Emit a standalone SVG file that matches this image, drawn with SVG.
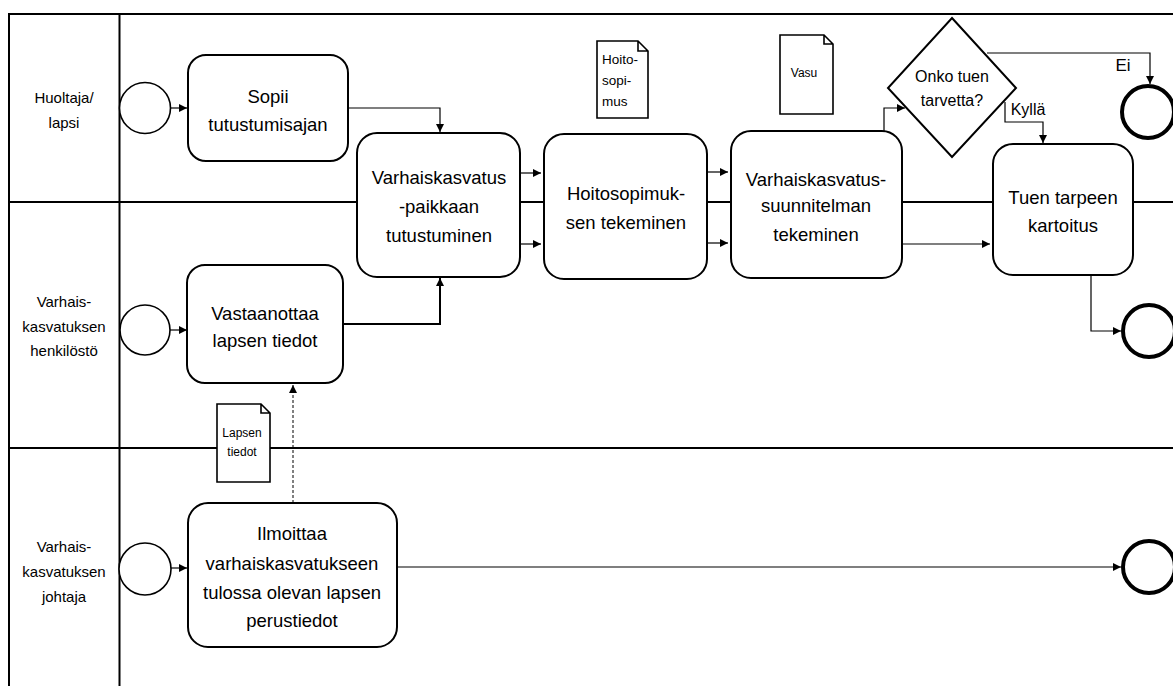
<svg xmlns="http://www.w3.org/2000/svg" width="1173" height="686" viewBox="0 0 1173 686">
  <style>
    .lane { stroke: #000; stroke-width: 2; fill: none; }
    .task { fill: #fff; stroke: #000; stroke-width: 2; }
    .start { fill: #fff; stroke: #000; stroke-width: 1.6; }
    .end { fill: #fff; stroke: #000; stroke-width: 4; }
    .doc { fill: #fff; stroke: #000; stroke-width: 1.6; }
    .flow { fill: none; stroke: #000; stroke-width: 1.2; }
    .flow2 { fill: none; stroke: #000; stroke-width: 2; }
    .assoc { fill: none; stroke: #000; stroke-width: 1; stroke-dasharray: 3 2; }
    text { font-family: "Liberation Sans", Arial, sans-serif; fill: #000; text-anchor: middle; }
    .t { font-size: 18.5px; }
    .lbl { font-size: 15px; }
    .d { font-size: 12px; }
    .d2 { font-size: 13.5px; text-anchor: start; }
    .g { font-size: 16px; }
    .ei { font-size: 17px; }
  </style>
  <defs>
    <marker id="arr" viewBox="0 0 10 10" refX="10" refY="5" markerWidth="8" markerHeight="8" markerUnits="userSpaceOnUse" orient="auto">
      <path d="M0,0 L10,5 L0,10 Z" fill="#000"/>
    </marker>
  </defs>

  <rect width="1173" height="686" fill="#fff"/>

  <!-- pool and lanes -->
  <g id="pool">
    <path class="lane" d="M9,686 V14 H1173"/>
    <path class="lane" d="M119.5,14 V686"/>
    <path class="lane" d="M9,202 H1173"/>
    <path class="lane" d="M9,448 H1173"/>
    <text class="lbl" x="64" y="103">Huoltaja/</text>
    <text class="lbl" x="64" y="128">lapsi</text>
    <text class="lbl" x="64" y="307">Varhais-</text>
    <text class="lbl" x="64" y="332">kasvatuksen</text>
    <text class="lbl" x="64" y="356">henkilöstö</text>
    <text class="lbl" x="64" y="552">Varhais-</text>
    <text class="lbl" x="64" y="577">kasvatuksen</text>
    <text class="lbl" x="64" y="602">johtaja</text>
  </g>

  <!-- connectors -->
  <g id="connectors">
    <path class="flow" d="M170,108 H187" marker-end="url(#arr)"/>
    <path class="flow" d="M170,330 H187" marker-end="url(#arr)"/>
    <path class="flow" d="M171,568 H187" marker-end="url(#arr)"/>
    <path class="flow" d="M348,108 H440 V132" marker-end="url(#arr)"/>
    <path class="flow2" d="M343,324 H440 V278" marker-end="url(#arr)"/>
    <path class="assoc" d="M293,503 V385" marker-end="url(#arr)"/>
    <path class="flow" d="M520,173 H541" marker-end="url(#arr)"/>
    <path class="flow" d="M520,244 H541" marker-end="url(#arr)"/>
    <path class="flow" d="M707,172 H728" marker-end="url(#arr)"/>
    <path class="flow" d="M707,243 H728" marker-end="url(#arr)"/>
    <path class="flow" d="M884,131 V108 H905" marker-end="url(#arr)"/>
    <path class="flow" d="M987,53 H1150 V84" marker-end="url(#arr)"/>
    <path class="flow" d="M1005,102 V122 H1043 V143" marker-end="url(#arr)"/>
    <path class="flow" d="M902,244 H990" marker-end="url(#arr)"/>
    <path class="flow" d="M1091,275 V331 H1121" marker-end="url(#arr)"/>
    <path class="flow" d="M397,567 H1121" marker-end="url(#arr)"/>
  </g>

  <!-- start events -->
  <g id="start-huoltaja"><circle class="start" cx="145" cy="108" r="25.5"/></g>
  <g id="start-henkilosto"><circle class="start" cx="145" cy="330" r="25"/></g>
  <g id="start-johtaja"><circle class="start" cx="145" cy="569" r="26"/></g>

  <!-- tasks -->
  <g id="task-sopii">
    <rect class="task" x="188" y="55" width="160" height="106" rx="18"/>
    <text class="t" x="268" y="103">Sopii</text>
    <text class="t" x="268" y="131">tutustumisajan</text>
  </g>
  <g id="task-tutustuminen">
    <rect class="task" x="357" y="133" width="163" height="144" rx="20"/>
    <text class="t" x="439" y="184">Varhaiskasvatus</text>
    <text class="t" x="439" y="213">-paikkaan</text>
    <text class="t" x="439" y="242">tutustuminen</text>
  </g>
  <g id="task-hoitosopimus">
    <rect class="task" x="544" y="134" width="163" height="145" rx="20"/>
    <text class="t" x="626" y="200">Hoitosopimuk-</text>
    <text class="t" x="626" y="229">sen tekeminen</text>
  </g>
  <g id="task-vasu">
    <rect class="task" x="731" y="131" width="171" height="147" rx="20"/>
    <text class="t" x="816" y="186">Varhaiskasvatus-</text>
    <text class="t" x="816" y="212">suunnitelman</text>
    <text class="t" x="816" y="241">tekeminen</text>
  </g>
  <g id="task-kartoitus">
    <rect class="task" x="993" y="144" width="140" height="131" rx="20"/>
    <text class="t" x="1063" y="204">Tuen tarpeen</text>
    <text class="t" x="1063" y="232">kartoitus</text>
  </g>
  <g id="task-vastaanottaa">
    <rect class="task" x="187" y="265" width="156" height="118" rx="18"/>
    <text class="t" x="265" y="320">Vastaanottaa</text>
    <text class="t" x="265" y="347">lapsen tiedot</text>
  </g>
  <g id="task-ilmoittaa">
    <rect class="task" x="188" y="503" width="209" height="144" rx="20"/>
    <text class="t" x="292" y="540">Ilmoittaa</text>
    <text class="t" x="292" y="570">varhaiskasvatukseen</text>
    <text class="t" x="292" y="599">tulossa olevan lapsen</text>
    <text class="t" x="292" y="627">perustiedot</text>
  </g>

  <!-- gateway -->
  <g id="gateway-tuki">
    <path class="task" d="M952,18 L1016,88 L952,157 L888,88 Z"/>
    <text class="g" x="952" y="82">Onko tuen</text>
    <text class="g" x="952" y="106">tarvetta?</text>
    <text class="ei" x="1123" y="71">Ei</text>
    <text class="g" x="1028" y="115">Kyllä</text>
  </g>

  <!-- data objects -->
  <g id="doc-hoitosopimus">
    <path class="doc" d="M597,41 H638 L648,51 V118 H597 Z M638,41 V51 H648"/>
    <text class="d2" x="602" y="64">Hoito-</text>
    <text class="d2" x="602" y="85">sopi-</text>
    <text class="d2" x="602" y="106">mus</text>
  </g>
  <g id="doc-vasu">
    <path class="doc" d="M780,35 H824 L833,44 V114 H780 Z M824,35 V44 H833"/>
    <text class="d" x="804" y="77">Vasu</text>
  </g>
  <g id="doc-lapsen-tiedot">
    <path class="doc" d="M217,404 H261 L270,413 V482 H217 Z M261,404 V413 H270"/>
    <text class="d" x="242" y="437">Lapsen</text>
    <text class="d" x="242" y="456">tiedot</text>
  </g>

  <!-- end events -->
  <g id="end-ei"><circle class="end" cx="1148" cy="112" r="26"/></g>
  <g id="end-kartoitus"><circle class="end" cx="1149" cy="331" r="26"/></g>
  <g id="end-johtaja"><circle class="end" cx="1149" cy="567" r="26"/></g>
</svg>
